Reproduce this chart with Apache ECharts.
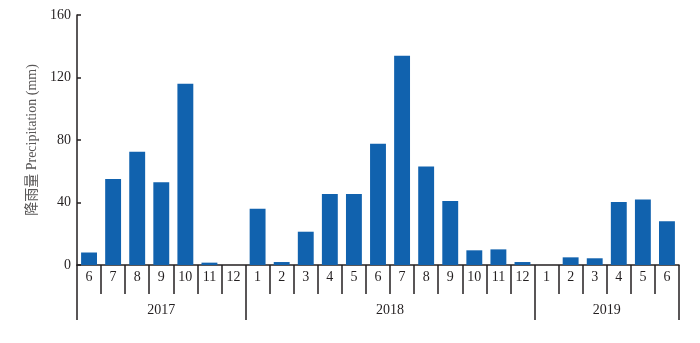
<!DOCTYPE html>
<html>
<head>
<meta charset="utf-8">
<script src="https://cdn.jsdelivr.net/npm/echarts@6/dist/echarts.min.js"></script>
<style>html,body{margin:0;padding:0;background:#fff}#c{width:700px;height:343px}</style>
</head>
<body>
<div id="c"></div>
<script>
var months = ['6','7','8','9','10','11','12','1','2','3','4','5','6','7','8','9','10','11','12','1','2','3','4','5','6'];
var precipitation = [8, 55, 72.5, 53, 116, 1.5, 0, 36, 1.9, 21.3, 45.4, 45.4, 77.6, 134, 63, 41, 9.4, 10, 1.9, 0, 4.9, 4.3, 40.3, 42, 28];
var years = ['2017', '2018', '2019'];
var monthsPerYear = [7, 12, 6];
var yTicks = [0, 40, 80, 120, 160];
var yName = '降雨量 Precipitation (mm)';

var FONT = "'Liberation Serif', 'Noto Sans CJK SC', serif";
var DARK = '#231f20';

// Half-band helper axis for year grouping
var halfCats = [];
for (var i = 0; i <= months.length * 2; i++) halfCats.push(String(i));
var yearTickIdx = {}, yearLabelIdx = {}, cum = 0;
yearTickIdx[0] = true;
monthsPerYear.forEach(function (n, k) {
  yearLabelIdx[cum * 2 + n] = years[k];
  cum += n;
  yearTickIdx[cum * 2] = true;
});

var chart = echarts.init(document.getElementById('c'));
chart.setOption({
  animation: false,
  grid: { left: 77, right: 21, top: 15, bottom: 78, containLabel: false },
  xAxis: [{
    type: 'category',
    data: months,
    position: 'bottom',
    axisLine: { show: true, lineStyle: { color: DARK, width: 1.5 } },
    axisTick: { show: true, interval: 0, length: 29, lineStyle: { color: DARK, width: 1.5 } },
    axisLabel: { interval: 0, margin: 5, color: DARK, fontSize: 14, fontFamily: FONT }
  }, {
    type: 'category',
    data: halfCats,
    boundaryGap: false,
    position: 'bottom',
    axisLine: { show: false },
    axisTick: { show: true, length: 55, interval: function (idx) { return !!yearTickIdx[idx]; }, lineStyle: { color: DARK, width: 1.5 } },
    axisLabel: {
      margin: 38, color: DARK, fontSize: 14, fontFamily: FONT,
      interval: function (idx) { return yearLabelIdx[idx] !== undefined; },
      formatter: function (v) { return yearLabelIdx[+v] || ''; }
    }
  }],
  yAxis: {
    type: 'value',
    min: yTicks[0], max: yTicks[yTicks.length - 1], interval: 40,
    name: yName,
    nameLocation: 'middle',
    nameGap: 37,
    nameTextStyle: { color: '#595757', fontSize: 14, fontFamily: FONT },
    axisLine: { show: true, lineStyle: { color: DARK, width: 1.5 } },
    axisTick: { show: true, inside: true, length: 4, lineStyle: { color: DARK, width: 1.5 } },
    axisLabel: { margin: 6, color: DARK, fontSize: 14, fontFamily: FONT },
    splitLine: { show: false }
  },
  series: [{
    type: 'bar',
    xAxisIndex: 0,
    data: precipitation,
    barWidth: '66%',
    itemStyle: { color: '#1162ae' }
  }]
});
</script>
</body>
</html>
